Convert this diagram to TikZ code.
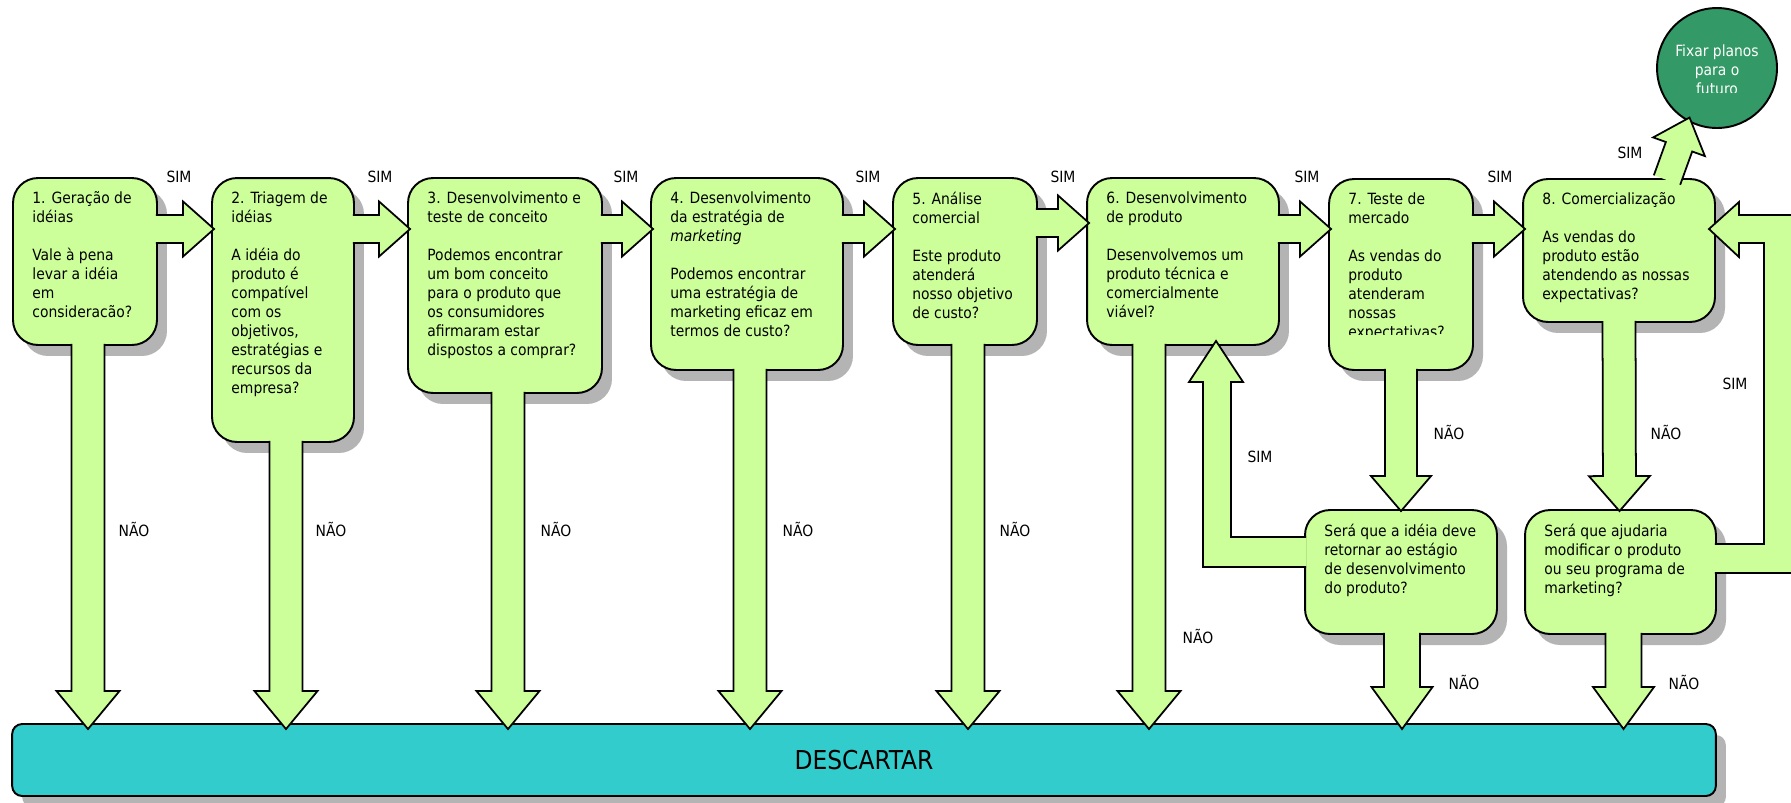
\documentclass[tikz,border=0pt]{standalone}
\usepackage{fontspec}
\setmainfont{DejaVu Sans Condensed}
\usetikzlibrary{calc,shadows}

\definecolor{boxgreen}{HTML}{CCFF99}
\definecolor{dropteal}{HTML}{33CCCC}
\definecolor{plangreen}{HTML}{339966}
\definecolor{shadegray}{HTML}{B4B4B4}

\newcommand{\flowarrow}[5]{%
  \coordinate (fs) at (#1);
  \coordinate (ft) at (#2);
  \coordinate (hb) at ($(ft)!#5*0.02cm!(fs)$);
  \path[flow] ($(fs)!#3*0.02cm!90:(ft)$) -- ($(hb)!#3*0.02cm!90:(ft)$)
    -- ($(hb)!#4*0.02cm!90:(ft)$) -- (ft) -- ($(hb)!#4*0.02cm!-90:(ft)$)
    -- ($(hb)!#3*0.02cm!-90:(ft)$) -- ($(fs)!#3*0.02cm!-90:(ft)$);
}
\newcommand{\hflow}[3]{\flowarrow{$(#1.east |- 0,#3)+(-2,0)$}{$(#2.west |- 0,#3)+(3,0)$}{14}{27.5}{31}}
\newcommand{\dflow}[2]{\flowarrow{$(#1.south)+(#2,-2)$}{$(#1.south |- desc.north)+(#2,6)$}{16.5}{31.5}{38}}

\begin{document}
\begin{tikzpicture}[x=0.02cm,y=-0.02cm,
    box/.style={draw,fill=boxgreen,line width=1.1pt,rounded corners=0.5cm,
      drop shadow={shadow xshift=0.2cm,shadow yshift=-0.22cm,fill=shadegray,opacity=1}},
    flow/.style={draw,fill=boxgreen,line width=1pt,line join=miter},
    txt/.style={anchor=north west,inner sep=0pt,align=left,font=\fontsize{8.8}{10.8}\selectfont},
    lbl/.style={inner sep=0pt,font=\fontsize{8.8}{10.8}\selectfont}]
\useasboundingbox (0,0) rectangle (1791,802);
\fill[white] (0,0) rectangle (1791,802);
\clip (0,0) rectangle (1791,802);

\node[box,fill=dropteal,rounded corners=0.2cm,minimum width=34.08cm,minimum height=1.44cm,
  font=\fontsize{14.8}{17}\selectfont] (desc) at (864,760) {DESCARTAR};

\node[box,minimum width=2.88cm,minimum height=3.34cm] (b1) at (85,261.5) {};
\node[box,minimum width=2.84cm,minimum height=5.28cm] (b2) at (283,310) {};
\node[box,minimum width=3.88cm,minimum height=4.30cm] (b3) at (505,285.5) {};
\node[box,minimum width=3.84cm,minimum height=3.84cm] (b4) at (747,274) {};
\node[box,minimum width=2.88cm,minimum height=3.34cm] (b5) at (965,261.5) {};
\node[box,minimum width=3.84cm,minimum height=3.34cm] (b6) at (1183,261.5) {};
\node[box,minimum width=2.88cm,minimum height=3.82cm] (b7) at (1401,274.5) {};
\node[box,minimum width=3.84cm,minimum height=2.86cm] (b8) at (1619,250.5) {};
\node[box,minimum width=3.84cm,minimum height=2.48cm] (b7b) at (1401,572) {};
\node[box,minimum width=3.82cm,minimum height=2.48cm] (b8b) at (1620.5,572) {};
\node[circle,draw,fill=plangreen,line width=1.1pt,minimum size=2.4cm] (fut) at (1717,68) {};

\hflow{b1}{b2}{229}
\hflow{b2}{b3}{229}
\hflow{b3}{b4}{229}
\hflow{b4}{b5}{229}
\hflow{b5}{b6}{223}
\hflow{b6}{b7}{229}
\hflow{b7}{b8}{229}
\flowarrow{$(b8.north)+(48,2)$}{$(fut.center)!0.93!(fut.241)$}{14}{27.5}{31}

\dflow{b1}{3}
\dflow{b2}{3}
\dflow{b3}{3}
\dflow{b4}{3}
\dflow{b5}{3}
\dflow{b6}{-34}
\flowarrow{$(b7.south)+(0,-2)$}{$(b7b.north)+(0,2)$}{16}{30}{35}
\flowarrow{$(b8.south)+(0,-2)$}{$(b8b.north)+(-1,2)$}{16.5}{30.5}{35}
\flowarrow{$(b7b.south)+(1,-2)$}{$(b7b.south |- desc.north)+(1,6)$}{18}{30.5}{42}
\flowarrow{$(b8b.south)+(3,-2)$}{$(b8b.south |- desc.north)+(3,6)$}{18}{30.5}{42}

\coordinate (r1) at ($(b7b.west)+(2,-35)$);
\coordinate (r2) at ($(b7b.west)+(2,-5)$);
\coordinate (r3) at ($(b6.south)+(33,-5)$);
\path[flow] (r1) -| ($(r3)+(15,41)$) -- ($(r3)+(27,41)$) -- (r3) -- ($(r3)+(-27,41)$)
  -- ($(r3)+(-13,41)$) |- (r2);

\coordinate (q1) at ($(b8b.east)+(-2,-28)$);
\coordinate (q2) at ($(b8b.east)+(-2,1)$);
\coordinate (q3) at ($(b8.east)+(-7,-21.5)$);
\path[flow] (q1) -- ++(49,0) |- ($(q3)+(30,14)$) -- ($(q3)+(30,28)$) -- (q3)
  -- ($(q3)+(30,-27)$) -- ($(q3)+(30,-14)$) -| ($(q2)+(79,0)$) -- (q2);

\node[txt] (t1) at ($(b1.north west)+(20,14.5)$) {1. Geração de\\idéias\\[10.8pt]Vale à pena\\levar a idéia\\em\\consideracão?};
\node[txt] (t2) at ($(b2.north west)+(20,14.5)$) {2. Triagem de\\idéias\\[10.8pt]A idéia do\\produto é\\compatível\\com os\\objetivos,\\estratégias e\\recursos da\\empresa?};
\node[txt] (t3) at ($(b3.north west)+(20,14.5)$) {3. Desenvolvimento e\\teste de conceito\\[10.8pt]Podemos encontrar\\um bom conceito\\para o produto que\\os consumidores\\afirmaram estar\\dispostos a comprar?};
\node[txt] (t4) at ($(b4.north west)+(20,14.5)$) {4. Desenvolvimento\\da estratégia de\\\textit{marketing}\\[10.8pt]Podemos encontrar\\uma estratégia de\\marketing eficaz em\\termos de custo?};
\node[txt] (t5) at ($(b5.north west)+(20,14.5)$) {5. Análise\\comercial\\[10.8pt]Este produto\\atenderá\\nosso objetivo\\de custo?};
\node[txt] (t6) at ($(b6.north west)+(20,14.5)$) {6. Desenvolvimento\\de produto\\[10.8pt]Desenvolvemos um\\produto técnica e\\comercialmente\\viável?};
\begin{scope}
\clip (b7.north west) rectangle ($(b7.east |- 0,334)$);
\node[txt] (t7) at ($(b7.north west)+(20,14.5)$) {7. Teste de\\mercado\\[10.8pt]As vendas do\\produto\\atenderam\\nossas\\expectativas?};
\end{scope}
\node[txt] (t8) at ($(b8.north west)+(20,14.5)$) {8. Comercialização\\[10.8pt]As vendas do\\produto estão\\atendendo as nossas\\expectativas?};
\node[txt] (t7b) at ($(b7b.north west)+(20,14.5)$) {Será que a idéia deve\\retornar ao estágio\\de desenvolvimento\\do produto?};
\node[txt] (t8b) at ($(b8b.north west)+(20,14.5)$) {Será que ajudaria\\modificar o produto\\ou seu programa de\\marketing?};
\begin{scope}
\clip (1650,0) rectangle (1790,92);
\node[txt,anchor=north,align=center,text=white] (tfut) at (1717,44) {Fixar planos\\para o\\futuro};
\end{scope}

\node[lbl] (s1) at (179,177) {SIM};
\node[lbl] (s2) at (380,177) {SIM};
\node[lbl] (s3) at (626,177) {SIM};
\node[lbl] (s4) at (868,177) {SIM};
\node[lbl] (s5) at (1063,177) {SIM};
\node[lbl] (s6) at (1307,177) {SIM};
\node[lbl] (s7) at (1500,177) {SIM};
\node[lbl] (s8) at (1630,153) {SIM};
\node[lbl] (s9) at (1260,457) {SIM};
\node[lbl] (s10) at (1735,384) {SIM};
\node[lbl] (n1) at (134,529) {NÃO};
\node[lbl] (n2) at (331,529) {NÃO};
\node[lbl] (n3) at (556,529) {NÃO};
\node[lbl] (n4) at (798,529) {NÃO};
\node[lbl] (n5) at (1015,529) {NÃO};
\node[lbl] (n6) at (1198,636) {NÃO};
\node[lbl] (n7) at (1449,432) {NÃO};
\node[lbl] (n8) at (1666,432) {NÃO};
\node[lbl] (n9) at (1464,682) {NÃO};
\node[lbl] (n10) at (1684,682) {NÃO};
\end{tikzpicture}
\end{document}
